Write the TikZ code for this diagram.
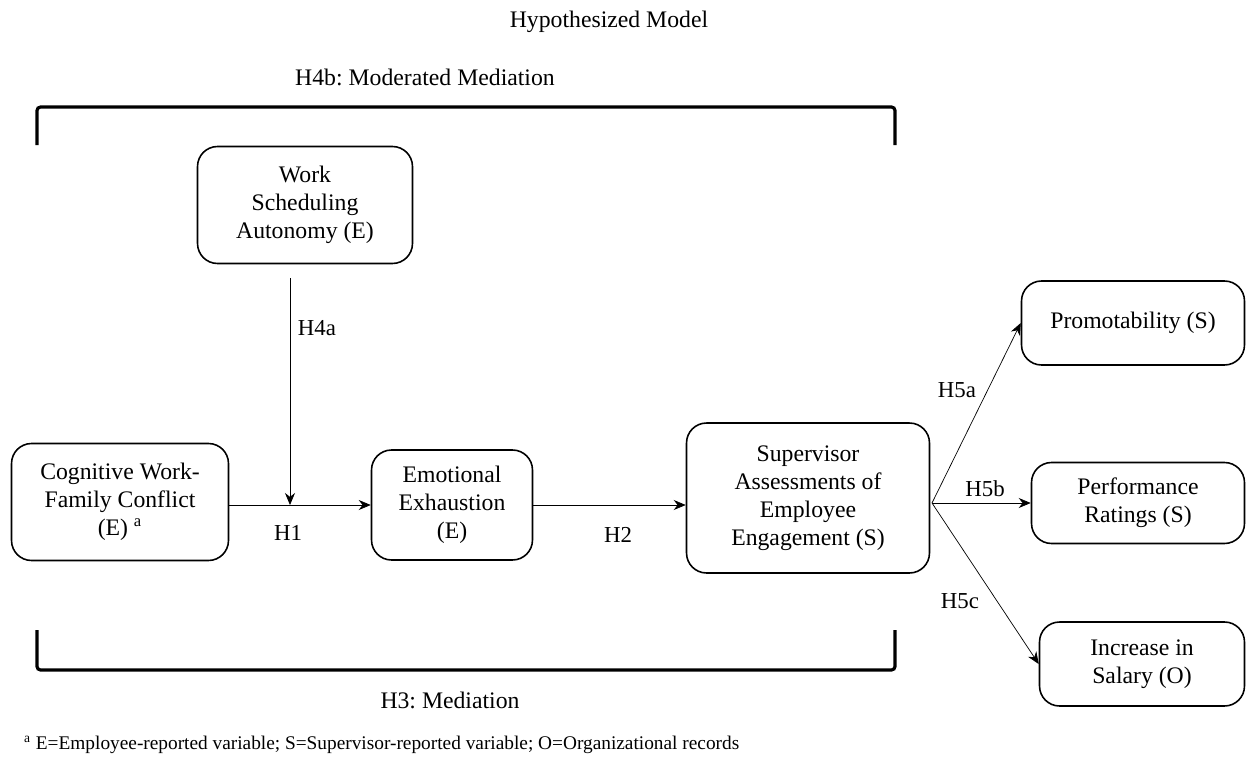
\documentclass[tikz,border=0pt]{standalone}
\usepackage{fontspec}
\setmainfont{Liberation Serif}
\usepackage{tikz}
\usetikzlibrary{arrows.meta, positioning}
\frenchspacing

\tikzset{
  var/.style={draw, rounded corners=0.4cm, align=center, line width=0.9pt, inner sep=2pt},
  hyp/.style={font=\fontsize{13}{15.5}\selectfont},
  brk/.style={line width=1.8pt, rounded corners=2pt}
}

\begin{document}
\begin{tikzpicture}[x=0.02cm, y=-0.02cm, >={Stealth[length=2.4mm, width=2mm]},
  every node/.style={font=\fontsize{13.5}{16}\selectfont}]
  \useasboundingbox (0,0) rectangle (1250,767);

  % Titles
  \node (title) at (609,22) {Hypothesized Model};
  \node (h4b) at (425,77) {H4b: Moderated Mediation};

  % Brackets
  \draw[brk] (37,145) -- (37,107) -- (895,107) -- (895,145);
  \draw[brk] (37,630) -- (37,670) -- (895,670) -- (895,630);
  \node (h3) at (450,700) {H3: Mediation};

  % Variables
  \node[var, minimum width=4.3cm, minimum height=2.34cm] (wsa) at (305,205) {Work\\Scheduling\\Autonomy (E)};
  \node[var, minimum width=4.34cm, minimum height=2.34cm] (cwfc) at (120,502) {Cognitive Work-\\Family Conflict\\(E) \textsuperscript{a}};
  \node[var, minimum width=3.22cm, minimum height=2.2cm] (ee) at (452,505) {Emotional\\Exhaustion\\(E)};
  \node[var, minimum width=4.86cm, minimum height=3cm] (sae) at (808,498) {Supervisor\\Assessments of\\Employee\\Engagement (S)};
  \node[var, minimum width=4.46cm, minimum height=1.68cm] (prom) at (1133,323) {Promotability (S)};
  \node[var, minimum width=4.26cm, minimum height=1.62cm] (perf) at (1138,503) {Performance\\Ratings (S)};
  \node[var, minimum width=4.1cm, minimum height=1.68cm] (sal) at (1142,664) {Increase in\\Salary (O)};

  % Paths
  \coordinate (j) at (290,505);
  \draw[->] (cwfc.east |- j) -- (ee.west |- j);
  \draw[->, shorten <=0.28cm] (wsa.south -| j) -- (j);
  \draw[->] (ee.east |- j) -- (sae.west |- j);
  \coordinate (fan) at (932,503);
  \draw[->] (fan) -- (prom.west);
  \draw[->] (fan) -- (perf.west);
  \draw[->] (fan) -- (sal.west);

  \node[hyp] (h4a) at (317,328) {H4a};
  \node[hyp] (h1) at (288,533) {H1};
  \node[hyp] (h2) at (618,535) {H2};
  \node[hyp] (h5a) at (957,390) {H5a};
  \node[hyp] (h5b) at (985,489) {H5b};
  \node[hyp] (h5c) at (960,601) {H5c};

  % Footnote
  \node[anchor=west, font=\fontsize{11}{13}\selectfont] (note) at (18,745) {\textsuperscript{a} E=Employee-reported variable; S=Supervisor-reported variable; O=Organizational records};
\end{tikzpicture}
\end{document}
